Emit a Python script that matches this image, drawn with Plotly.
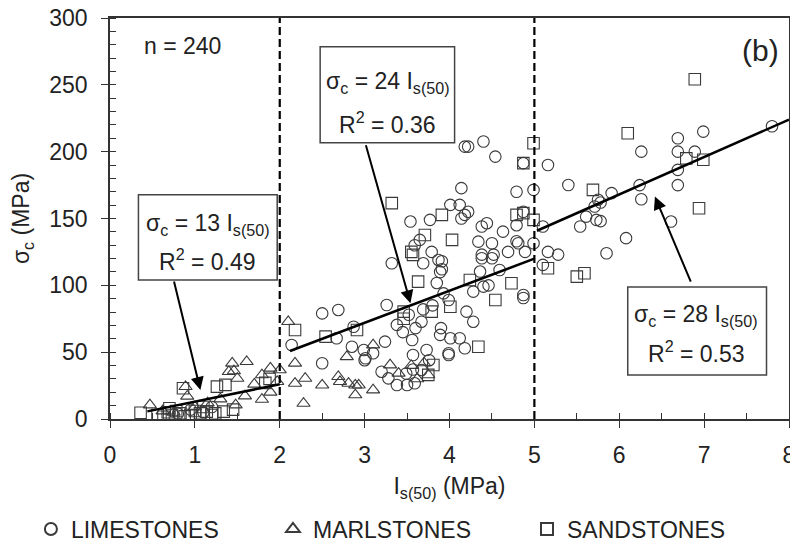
import plotly.graph_objects as go

# ---------------- data ----------------
lime_x = [0.80, 0.95, 1.10, 1.20,
          2.14, 2.50, 2.69, 3.26, 2.87, 2.67, 2.85, 2.99, 3.10, 3.24, 3.01, 2.50, 3.38, 3.56, 3.57, 3.73,
          3.76, 3.20, 3.28, 3.38, 3.50, 3.59, 3.49, 3.57, 3.67, 3.89, 4.01, 4.12, 4.18, 3.99, 4.20, 3.67,
          3.69, 3.80, 3.93, 3.32, 3.69, 3.87, 3.89, 3.85, 3.45, 3.60, 3.52, 3.00,
          3.54, 3.77, 4.01, 4.12, 4.14, 4.18, 4.14, 3.59, 3.79, 3.65,
          4.22, 4.40, 4.54, 4.87, 5.16, 5.40, 4.79, 4.99, 5.91, 5.75, 5.71, 5.61, 5.54, 5.73, 6.08, 5.85,
          4.18, 4.22, 4.44, 4.38, 4.34, 4.50, 4.63, 4.79, 4.79, 4.87, 5.10, 4.99, 4.69, 4.89, 5.16, 5.28,
          4.38, 4.52, 4.81, 5.10, 4.38, 4.50, 4.59, 4.36, 3.91, 3.91, 4.28, 4.40, 4.46, 4.87, 4.87, 3.99,
          4.28, 3.90, 3.99,
          6.99, 6.69, 6.26, 6.69, 6.89, 7.80, 6.69, 6.69, 6.24, 6.26, 5.78, 5.78, 6.61]
lime_y = [4, 7, 5, 9,
          55.4, 79, 81.6, 85.3, 69, 60.4, 54.1, 51.6, 49.2, 57.9, 45.4, 41.7, 70.4, 59.1, 47.9, 51.6,
          44, 35.4, 30.4, 25.4, 25.4, 26.7, 34, 37, 36.7, 62.9, 60.4, 60.4, 52.9, 49.2, 80.3, 72.8,
          82, 85, 94, 116.5, 116.5, 119, 110, 101.8, 65, 68, 78, 44,
          147.7, 149, 160.2, 160.2, 172.7, 203.8, 150, 130, 125, 134,
          203.8, 207.6, 196.3, 191.4, 190, 175.1, 170, 171.4, 169, 164, 159, 151.4, 144, 149, 135.3, 124,
          152.7, 155, 146.5, 144, 132.7, 131.5, 140.2, 133, 145, 155, 144, 131.5, 125, 125, 125, 123,
          123, 123, 131.5, 115.3, 120.3, 120.3, 111.5, 110.3, 112, 118, 95.3, 99, 100, 92.8, 90.5, 89,
          72.8, 68, 47.9,
          215, 210, 200, 200, 200, 219, 186.4, 175, 175, 164.4, 162, 148, 147.7]

marl_x = [0.47, 0.62, 0.75, 0.89, 0.91, 1.00, 1.15, 1.30, 1.40, 1.44, 1.46, 1.50, 1.48, 1.59, 1.61,
          1.70, 1.79, 1.79, 1.89, 1.89, 1.97, 2.00,
          2.10, 2.18, 2.18, 2.30, 2.28, 2.50, 2.69, 2.71, 2.81, 2.89, 2.89, 3.10, 2.79, 3.10, 3.30,
          3.40, 3.75, 3.62, 3.70, 3.55, 2.93]
marl_y = [10.5, 6, 5, 24.2, 17, 9, 12, 15, 35.4, 41.7, 36, 30.4, 10.5, 17.2, 42.9,
          26, 33, 14.7, 38, 20, 28, 36.7,
          72.8, 41.7, 26.7, 30.4, 11.7, 25.4, 31.7, 28, 26.7, 25.4, 18, 21.7, 46.6, 55.4, 40.4,
          34.2, 33, 30, 42, 40, 25.4]

sand_x = [0.36, 0.56, 0.63, 0.68, 0.73, 0.78, 0.83, 0.88, 0.95, 1.00, 1.06, 1.14, 1.20, 1.24, 1.34,
          1.45, 0.86, 1.26, 1.36, 1.83, 1.88, 0.70, 1.10,
          2.18, 2.54, 2.91, 3.46, 3.46, 3.63, 3.57, 3.79, 4.01, 3.81, 3.32, 3.91, 4.03, 3.71, 3.55,
          4.24, 4.34, 3.75,
          4.73, 4.54, 4.99, 4.87, 4.79, 4.87, 4.99, 5.16, 5.50, 5.59, 5.69,
          6.89, 6.10, 6.79, 6.99, 6.94]
sand_y = [4.7, 3, 1.7, 5, 3, 6, 4.2, 2, 3, 6, 4.2, 5.5, 3, 4.2, 5.5,
          7, 23, 24.2, 25.5, 27, 30, 8, 9,
          66.6, 61.6, 66.6, 80.3, 75, 102.8, 122.8, 80.3, 84, 40.4, 161.5, 152.7, 134, 137.7, 125,
          104, 54.1, 33,
          101.6, 89, 206.3, 191.4, 152.7, 154, 149, 112.8, 106.5, 109, 171.4,
          254.2, 213.8, 195, 194, 157.7]

# regression segments: sigma_c = k * Is(50)
fit_slopes = [13, 24, 28]
fit_x_start = [0.44, 2.12, 5.03]
fit_x_end = [2.0, 5.0, 8.0]
fit_r2 = ["0.49", "0.36", "0.53"]
boundaries = [2, 5]

x_ticks = [0, 1, 2, 3, 4, 5, 6, 7, 8]
y_ticks = [0, 50, 100, 150, 200, 250, 300]

FONT = "Liberation Sans, Arial, sans-serif"
MC = "#3a3a3a"

fig = go.Figure()

mk = dict(size=11.5, color=MC, line=dict(width=1.1, color=MC))
fig.add_trace(go.Scatter(x=lime_x, y=lime_y, mode="markers", name="LIMESTONES", legend="legend",
                         marker=dict(symbol="circle-open", **mk)))
fig.add_trace(go.Scatter(x=marl_x, y=marl_y, mode="markers", name="MARLSTONES", legend="legend2",
                         marker=dict(symbol="triangle-up-open", **mk)))
fig.add_trace(go.Scatter(x=sand_x, y=sand_y, mode="markers", name="SANDSTONES", legend="legend3",
                         marker=dict(symbol="square-open", **mk)))

for k, xs, xe in zip(fit_slopes, fit_x_start, fit_x_end):
    fig.add_trace(go.Scatter(x=[xs, xe], y=[k * xs, k * xe], mode="lines",
                             line=dict(color="black", width=2.5), showlegend=False,
                             hoverinfo="skip"))

for b in boundaries:
    fig.add_shape(type="line", xref="x", yref="y", x0=b, x1=b, y0=0, y1=300,
                  line=dict(color="black", width=2.2, dash="8px,4px"))

# annotation boxes
boxes = [  # x0, x1, y0, y1, text x, line1 y, line2 y
    (0.335, 1.97, 104, 167.7, 1.15, 145.2, 119),
    (2.476, 4.06, 206.6, 278.4, 3.27, 252, 221.6),
    (6.10, 7.735, 32.9, 98.8, 6.91, 77.8, 50.1),
]
for (bx0, bx1, by0, by1, tx, l1, l2), k, r2 in zip(boxes, fit_slopes, fit_r2):
    fig.add_shape(type="rect", xref="x", yref="y", x0=bx0, x1=bx1, y0=by0, y1=by1,
                  line=dict(color="#444", width=1.5), fillcolor="rgba(255,255,255,0)")
    fig.add_annotation(x=tx, y=l1, xref="x", yref="y", showarrow=False,
                       text=f"σ<sub>c</sub> = {k} I<sub>s(50)</sub>",
                       font=dict(size=23, color="#222", family=FONT))
    fig.add_annotation(x=tx, y=l2, xref="x", yref="y", showarrow=False,
                       text=f"R<sup>2</sup> = {r2}",
                       font=dict(size=23, color="#222", family=FONT))

arrows = [  # tail x, tail y, head x, head y
    (0.75, 104, 1.065, 21.7),
    (3.01, 206, 3.54, 86.6),
    (6.85, 101.6, 6.42, 166.4),
]
for axx, ayy, hx, hy in arrows:
    fig.add_annotation(x=hx, y=hy, ax=axx, ay=ayy, xref="x", yref="y", axref="x", ayref="y",
                       text="", showarrow=True, arrowhead=2, arrowsize=1.3, arrowwidth=2,
                       arrowcolor="black", standoff=0, startstandoff=0)

fig.add_annotation(x=0.86, y=279, xref="x", yref="y", text="n = 240", showarrow=False,
                   font=dict(size=23, color="#222", family=FONT))
fig.add_annotation(x=7.66, y=276, xref="x", yref="y", text="(b)", showarrow=False,
                   font=dict(size=30, color="#222", family=FONT))

axis_common = dict(showline=True, linecolor="#333", linewidth=1.5, mirror=True,
                   showgrid=False, zeroline=False, ticks="outside", ticklen=7,
                   tickcolor="#333", tickwidth=1.3, automargin=False,
                   ticklabeloverflow="allow",
                   tickfont=dict(size=23, color="#222", family=FONT))

fig.update_xaxes(range=[0, 8], tickvals=x_ticks, ticktext=[str(v) for v in x_ticks],
                 title=dict(text="I<sub>s(50)</sub> (MPa)", font=dict(size=23, color="#222", family=FONT),
                            standoff=11),
                 minor=dict(dtick=0.5, ticks="inside", ticklen=6, tickcolor="#333", tickwidth=1.2),
                 ticklabelstandoff=8, **axis_common)
fig.update_yaxes(range=[0, 300], tickvals=y_ticks, ticktext=[str(v) for v in y_ticks],
                 title=dict(text="σ<sub>c</sub> (MPa)", font=dict(size=23, color="#222", family=FONT),
                            standoff=13),
                 minor=dict(dtick=10, ticks="inside", ticklen=6, tickcolor="#333", tickwidth=1.2),
                 ticklabelstandoff=9, **axis_common)

leg_common = dict(orientation="h", xref="container", yref="container", y=0.028,
                  xanchor="left", yanchor="middle", itemsizing="constant",
                  font=dict(size=23, color="#222", family=FONT), bgcolor="rgba(0,0,0,0)")

# page body has an 8px margin, so the figure is sized 8px smaller on each axis
fig.update_layout(
    width=790, height=536,
    margin=dict(l=102, r=9, t=10, b=125, autoexpand=False),
    paper_bgcolor="white", plot_bgcolor="white",
    font=dict(family=FONT, color="#222"),
    legend=dict(x=0.029, **leg_common),
    legend2=dict(x=0.3354, **leg_common),
    legend3=dict(x=0.657, **leg_common),
)

fig.write_html("out.html")
